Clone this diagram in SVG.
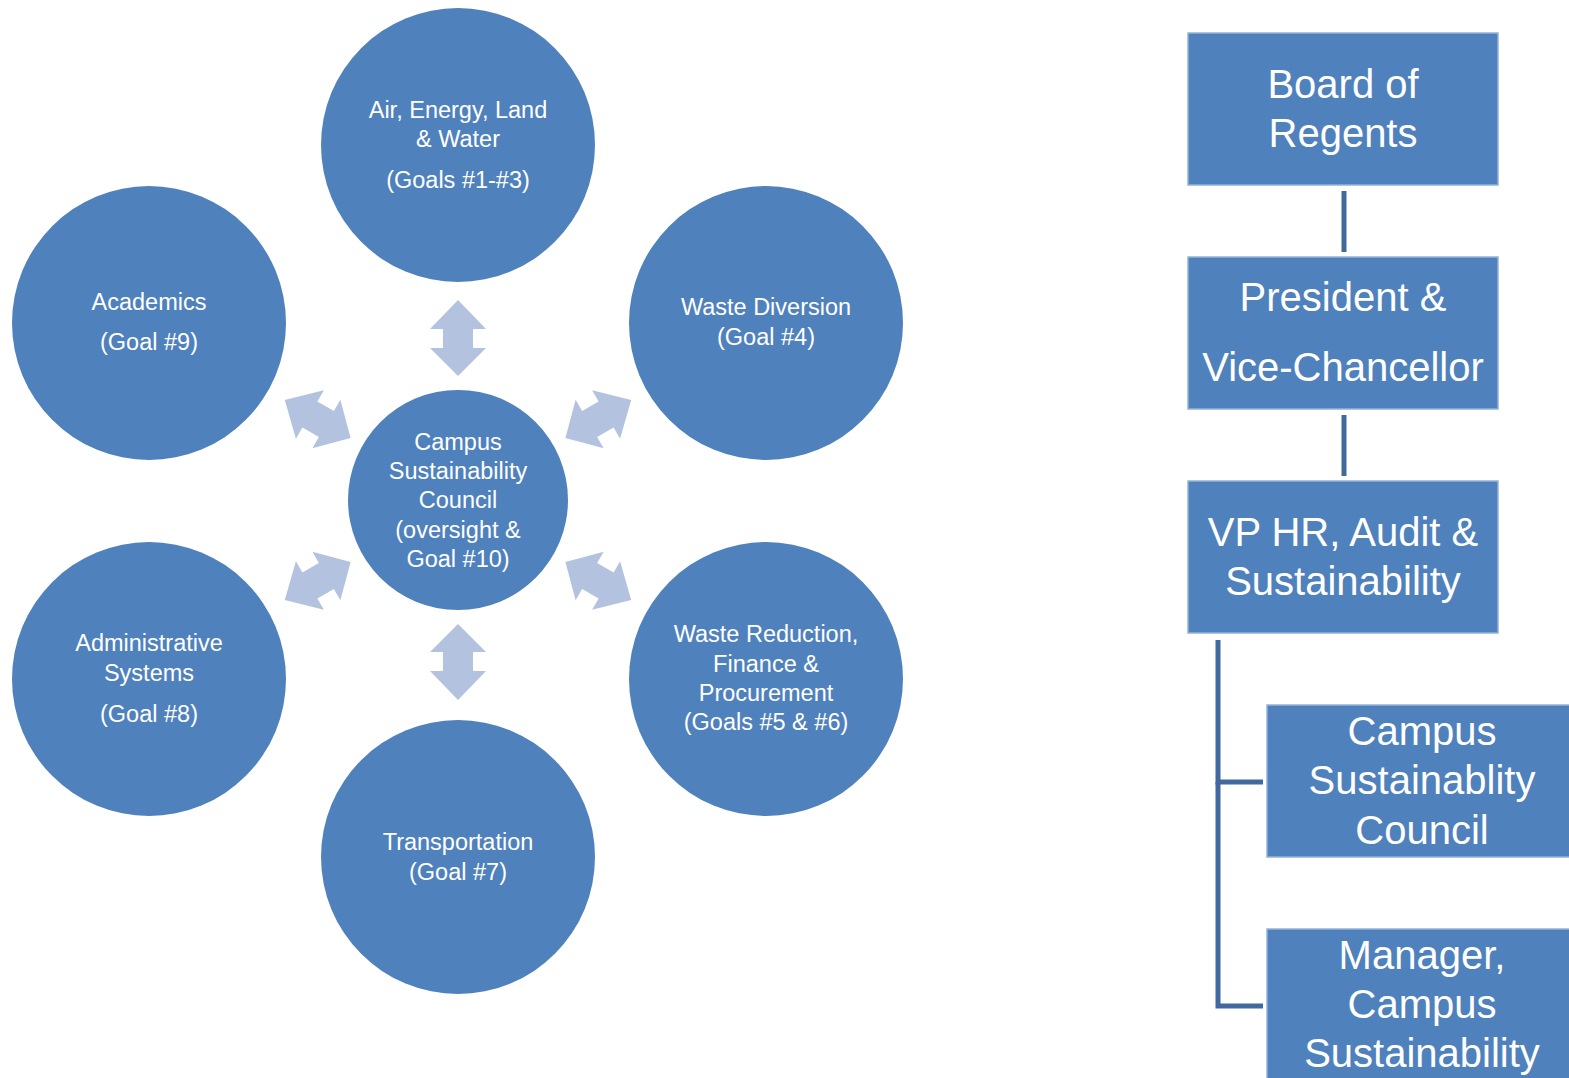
<svg xmlns="http://www.w3.org/2000/svg" width="1569" height="1078" viewBox="0 0 1569 1078">
<style>
.c{fill:#4f81bd}
.b{fill:#4f81bd;stroke:#93b3da;stroke-width:1.5}
.a{fill:#b3c3df}
.t{font-family:"Liberation Sans",Arial,sans-serif;fill:#ffffff;text-anchor:middle;font-size:23.5px}
.T{font-family:"Liberation Sans",Arial,sans-serif;fill:#ffffff;text-anchor:middle;font-size:40px}
.l{stroke:#41699f;stroke-width:5;fill:none}
</style>
<defs>
<path id="arr" d="M458,300 L486,329 L473,329 L473,348 L486,348 L458,376 L430,348 L443,348 L443,329 L430,329 Z"/>
</defs>
<rect width="1569" height="1078" fill="#ffffff"/>
<g id="arrows">
<use href="#arr" class="a"/>
<use href="#arr" class="a" transform="rotate(60 458 500)"/>
<use href="#arr" class="a" transform="rotate(120 458 500)"/>
<use href="#arr" class="a" transform="rotate(180 458 500)"/>
<use href="#arr" class="a" transform="rotate(240 458 500)"/>
<use href="#arr" class="a" transform="rotate(300 458 500)"/>
</g>
<g id="node-air">
<circle class="c" cx="458" cy="145" r="137"/>
<text class="t" x="458" y="118">Air, Energy, Land</text>
<text class="t" x="458" y="147">&amp; Water</text>
<text class="t" x="458" y="188">(Goals #1-#3)</text>
</g>
<g id="node-academics">
<circle class="c" cx="149" cy="323" r="137"/>
<text class="t" x="149" y="310">Academics</text>
<text class="t" x="149" y="350">(Goal #9)</text>
</g>
<g id="node-waste-diversion">
<circle class="c" cx="766" cy="323" r="137"/>
<text class="t" x="766" y="315">Waste Diversion</text>
<text class="t" x="766" y="345">(Goal #4)</text>
</g>
<g id="node-council">
<circle class="c" cx="458" cy="500" r="110"/>
<text class="t" x="458" y="450">Campus</text>
<text class="t" x="458" y="479">Sustainability</text>
<text class="t" x="458" y="508">Council</text>
<text class="t" x="458" y="538">(oversight &amp;</text>
<text class="t" x="458" y="567">Goal #10)</text>
</g>
<g id="node-admin">
<circle class="c" cx="149" cy="679" r="137"/>
<text class="t" x="149" y="651">Administrative</text>
<text class="t" x="149" y="681">Systems</text>
<text class="t" x="149" y="722">(Goal #8)</text>
</g>
<g id="node-waste-reduction">
<circle class="c" cx="766" cy="679" r="137"/>
<text class="t" x="766" y="642">Waste Reduction,</text>
<text class="t" x="766" y="672">Finance &amp;</text>
<text class="t" x="766" y="701">Procurement</text>
<text class="t" x="766" y="730">(Goals #5 &amp; #6)</text>
</g>
<g id="node-transportation">
<circle class="c" cx="458" cy="857" r="137"/>
<text class="t" x="458" y="850">Transportation</text>
<text class="t" x="458" y="880">(Goal #7)</text>
</g>
<g id="connectors">
<line class="l" x1="1344" y1="191" x2="1344" y2="252"/>
<line class="l" x1="1344" y1="415" x2="1344" y2="476"/>
<polyline class="l" points="1263,782 1218,782 1218,640"/>
<polyline class="l" points="1218,782 1218,1006 1263,1006"/>
</g>
<g id="node-board">
<rect class="b" x="1188" y="33" width="310" height="152"/>
<text class="T" x="1343" y="98">Board of</text>
<text class="T" x="1343" y="147">Regents</text>
</g>
<g id="node-president">
<rect class="b" x="1188" y="257" width="310" height="152"/>
<text class="T" x="1343" y="311">President &amp;</text>
<text class="T" x="1343" y="381">Vice-Chancellor</text>
</g>
<g id="node-vp">
<rect class="b" x="1188" y="481" width="310" height="152"/>
<text class="T" x="1343" y="546">VP HR, Audit &amp;</text>
<text class="T" x="1343" y="595">Sustainability</text>
</g>
<g id="node-csc">
<rect class="b" x="1267" y="705" width="310" height="152"/>
<text class="T" x="1422" y="745">Campus</text>
<text class="T" x="1422" y="794">Sustainablity</text>
<text class="T" x="1422" y="844">Council</text>
</g>
<g id="node-manager">
<rect class="b" x="1267" y="929" width="310" height="160"/>
<text class="T" x="1422" y="969">Manager,</text>
<text class="T" x="1422" y="1018">Campus</text>
<text class="T" x="1422" y="1067">Sustainability</text>
</g>
</svg>
